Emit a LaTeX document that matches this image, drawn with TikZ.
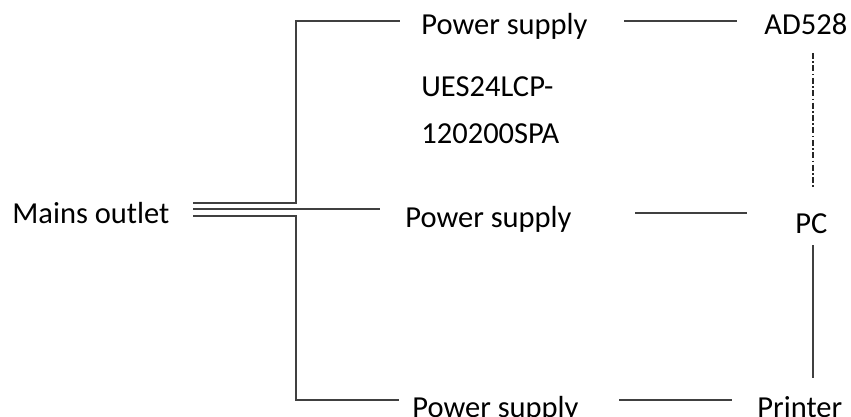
\documentclass[tikz,border=0pt]{standalone}
\usepackage{fontspec}
\setmainfont{Carlito}
\begin{document}
\begin{tikzpicture}[x=0.5pt, y=-0.5pt, font=\fontsize{15.25pt}{18pt}\selectfont,
        lbl/.style={anchor=base west, inner sep=0pt},
        wire/.style={line width=0.9pt, draw=black!75},
        link/.style={line width=0.9pt, draw=black!85, dash pattern=on 3pt off 1.2pt on 0.8pt off 1.2pt}]
      \useasboundingbox (0,0) rectangle (851,417);
      \node[lbl] (mains) at (12,223)  {Mains outlet};
      \node[lbl] (ps1)   at (421,35)  {Power supply};
      \node[lbl] (ad)    at (764,35)  {AD528};
      \node[lbl] (ues1)  at (421,97)  {UES24LCP-};
      \node[lbl] (ues2)  at (421,143) {120200SPA};
      \node[lbl] (ps2)   at (405,227) {Power supply};
      \node[lbl] (pc)    at (795,233) {PC};
      \node[lbl] (ps3)   at (412,417) {Power supply};
      \node[lbl] (prn)   at (757,417) {Printer};
      \coordinate (feed) at (193,209);
      % mains feed
      \draw[wire] ([yshift=3pt]feed) -- ++(51.5pt,0) |- ([xshift=-10.5pt,yshift=7pt]ps1.base west);
      \draw[wire] (feed) -- ([xshift=-12.5pt,yshift=9pt]ps2.base west);
      \draw[wire] ([yshift=-3.5pt]feed) -- ++(51.5pt,0) |- ([xshift=-6.5pt,yshift=8.5pt]ps3.base west);
      % supplies to devices
      \draw[wire] ([xshift=101.5pt,yshift=7pt]ps1.base west) -- ([xshift=-13.5pt,yshift=7pt]ad.base west);
      \draw[wire] ([xshift=115pt,yshift=7pt]ps2.base west) -- ([xshift=-24pt,yshift=10pt]pc.base west);
      \draw[wire] ([xshift=103.5pt,yshift=8.5pt]ps3.base west) -- ([xshift=-12.5pt,yshift=8.5pt]prn.base west);
      % device links
      \draw[link] ([xshift=24.5pt,yshift=-9pt]ad.base west) -- ([xshift=9pt,yshift=23pt]pc.base west);
      \draw[wire] ([xshift=9pt,yshift=-6pt]pc.base west) -- ([xshift=28pt,yshift=19.5pt]prn.base west);
    \end{tikzpicture}
\end{document}
